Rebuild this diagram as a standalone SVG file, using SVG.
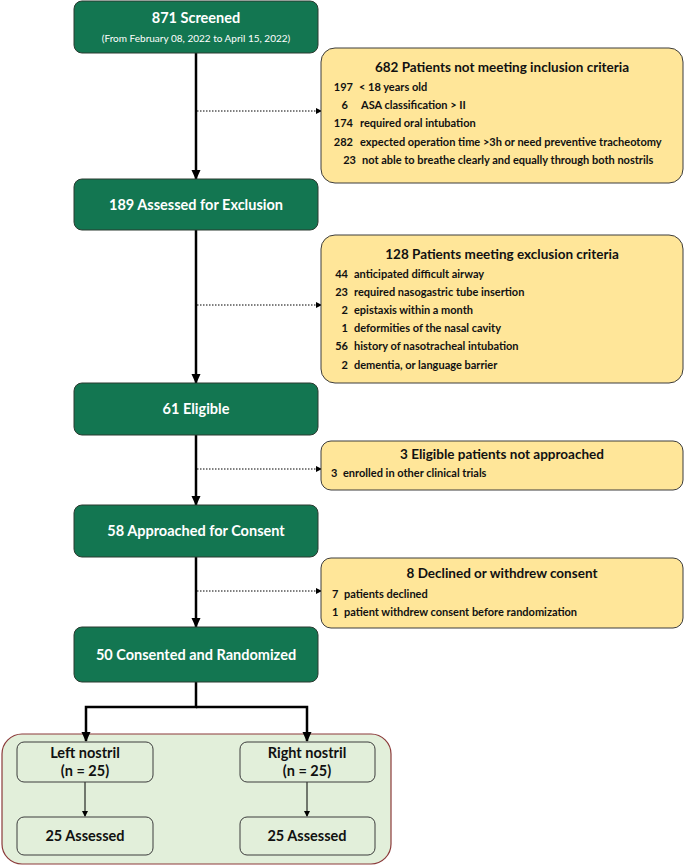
<svg xmlns="http://www.w3.org/2000/svg" width="685" height="866" viewBox="0 0 685 866">
<style>
.g{fill:#137651;stroke:#2b3a30;stroke-width:1}
.y{fill:#FFE699;stroke:#3c3c3c;stroke-width:1}
.w{fill:#E2EFDA;stroke:#3c3c3c;stroke-width:1}
.t{font-family:Lato,"Liberation Sans",sans-serif;font-weight:bold;fill:#fff;font-size:14.5px;text-anchor:middle}
.s{font-family:Lato,"Liberation Sans",sans-serif;fill:#fff;font-size:10px;text-anchor:middle}
.h{font-family:Lato,"Liberation Sans",sans-serif;font-weight:bold;fill:#111;font-size:13.5px;text-anchor:middle}
.r{font-family:Lato,"Liberation Sans",sans-serif;font-weight:bold;fill:#111;font-size:11px}
.n{text-anchor:end}
.b{font-family:Lato,"Liberation Sans",sans-serif;font-weight:bold;fill:#111;font-size:14.5px;text-anchor:middle}
.main{stroke:#000;stroke-width:2.5;fill:none}
.dot{stroke:#000;stroke-width:1;stroke-dasharray:1.5 1.5;fill:none}
.thin{stroke:#000;stroke-width:1;fill:none}
</style>
<defs>
<marker id="ah" markerWidth="6" markerHeight="6" refX="5" refY="3" orient="auto" markerUnits="userSpaceOnUse"><path d="M0,0 L6,3 L0,6 z" fill="#000"/></marker>
<marker id="ahb" markerWidth="10" markerHeight="10" refX="9" refY="5" orient="auto" markerUnits="userSpaceOnUse"><path d="M0,0.5 L10,5 L0,9.5 z" fill="#000"/></marker>
</defs>

<g id="container">
<rect x="2" y="734" width="389" height="130" rx="20" fill="#E2EFDA" stroke="#8B3A3A" stroke-width="1.2"/>
</g>

<g id="connectors">
<line class="main" x1="196" y1="53" x2="196" y2="179" marker-end="url(#ahb)"/>
<line class="main" x1="196" y1="230" x2="196" y2="383" marker-end="url(#ahb)"/>
<line class="main" x1="196" y1="435" x2="196" y2="505" marker-end="url(#ahb)"/>
<line class="main" x1="196" y1="557" x2="196" y2="627" marker-end="url(#ahb)"/>
<polyline class="main" points="196,682 196,707 86,707 86,741" marker-end="url(#ahb)"/>
<polyline class="main" points="196,707 307,707 307,741" marker-end="url(#ahb)"/>
<line class="dot" x1="197" y1="111" x2="321" y2="111" marker-end="url(#ah)"/>
<line class="dot" x1="197" y1="305" x2="321" y2="305" marker-end="url(#ah)"/>
<line class="dot" x1="197" y1="469" x2="321" y2="469" marker-end="url(#ah)"/>
<line class="dot" x1="197" y1="591" x2="321" y2="591" marker-end="url(#ah)"/>
<line class="thin" x1="85" y1="782" x2="85" y2="816" marker-end="url(#ah)"/>
<line class="thin" x1="307" y1="782" x2="307" y2="816" marker-end="url(#ah)"/>
</g>

<g id="screened">
<rect class="g" x="74" y="1" width="244" height="52" rx="8"/>
<text class="t" x="196" y="23">871 Screened</text>
<text class="s" x="196" y="42">(From February 08, 2022 to April 15, 2022)</text>
</g>

<g id="not-inclusion">
<rect class="y" x="321" y="48" width="362" height="135" rx="14"/>
<text class="h" x="502" y="72">682 Patients not meeting inclusion criteria</text>
<text class="r n" x="353" y="91">197</text><text class="r" x="359" y="91">&lt; 18 years old</text>
<text class="r n" x="348" y="109">6</text><text class="r" x="361" y="109">ASA classification &gt; II</text>
<text class="r n" x="353" y="127">174</text><text class="r" x="360" y="127">required oral intubation</text>
<text class="r n" x="353" y="146">282</text><text class="r" x="360" y="146">expected operation time &gt;3h or need preventive tracheotomy</text>
<text class="r n" x="356" y="164">23</text><text class="r" x="362" y="164">not able to breathe clearly and equally through both nostrils</text>
</g>

<g id="assessed-exclusion">
<rect class="g" x="74" y="179" width="244" height="51" rx="8"/>
<text class="t" x="196" y="210">189 Assessed for Exclusion</text>
</g>

<g id="exclusion">
<rect class="y" x="321" y="235" width="362" height="148" rx="14"/>
<text class="h" x="502" y="259">128 Patients meeting exclusion criteria</text>
<text class="r n" x="348" y="278">44</text><text class="r" x="354" y="278">anticipated difficult airway</text>
<text class="r n" x="348" y="296">23</text><text class="r" x="354" y="296">required nasogastric tube insertion</text>
<text class="r n" x="348" y="314">2</text><text class="r" x="354" y="314">epistaxis within a month</text>
<text class="r n" x="348" y="332">1</text><text class="r" x="354" y="332">deformities of the nasal cavity</text>
<text class="r n" x="348" y="350">56</text><text class="r" x="354" y="350">history of nasotracheal intubation</text>
<text class="r n" x="348" y="369">2</text><text class="r" x="354" y="369">dementia, or language barrier</text>
</g>

<g id="eligible">
<rect class="g" x="74" y="383" width="244" height="52" rx="8"/>
<text class="t" x="196" y="414">61 Eligible</text>
</g>

<g id="not-approached">
<rect class="y" x="321" y="441" width="362" height="49" rx="10"/>
<text class="h" x="502" y="459">3 Eligible patients not approached</text>
<text class="r" x="331" y="477">3</text><text class="r" x="343" y="477">enrolled in other clinical trials</text>
</g>

<g id="approached">
<rect class="g" x="74" y="505" width="244" height="52" rx="8"/>
<text class="t" x="196" y="536">58 Approached for Consent</text>
</g>

<g id="declined">
<rect class="y" x="321" y="558" width="362" height="70" rx="10"/>
<text class="h" x="502" y="578">8 Declined or withdrew consent</text>
<text class="r" x="332" y="598">7</text><text class="r" x="344" y="598">patients declined</text>
<text class="r" x="332" y="616">1</text><text class="r" x="344" y="616">patient withdrew consent before randomization</text>
</g>

<g id="randomized">
<rect class="g" x="74" y="627" width="244" height="55" rx="8"/>
<text class="t" x="196" y="660">50 Consented and Randomized</text>
</g>

<g id="left-nostril">
<rect class="w" x="17" y="742" width="136" height="40" rx="7"/>
<text class="b" x="85" y="758">Left nostril</text>
<text class="b" x="85" y="776">(n = 25)</text>
</g>

<g id="right-nostril">
<rect class="w" x="240" y="742" width="135" height="40" rx="7"/>
<text class="b" x="307" y="758">Right nostril</text>
<text class="b" x="307" y="776">(n = 25)</text>
</g>

<g id="left-assessed">
<rect class="w" x="17" y="817" width="136" height="38" rx="7"/>
<text class="b" x="85" y="841">25 Assessed</text>
</g>

<g id="right-assessed">
<rect class="w" x="240" y="817" width="135" height="38" rx="7"/>
<text class="b" x="307" y="841">25 Assessed</text>
</g>
</svg>
